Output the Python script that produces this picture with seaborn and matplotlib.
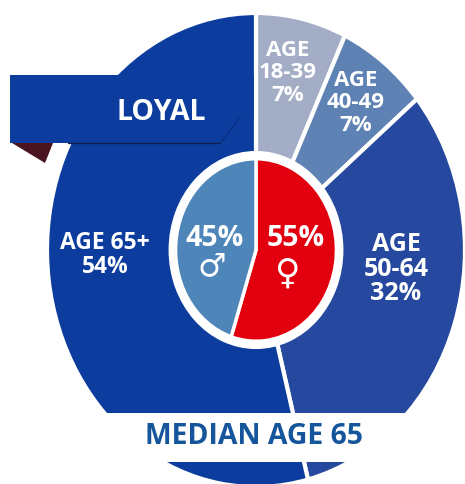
import matplotlib
matplotlib.use('Agg')
import matplotlib.pyplot as plt
import seaborn as sns

# Age split, clockwise from 12 o'clock
age_labels = ['18-39', '40-49', '50-64', '65+']
age_values = [7, 7, 32, 54]
age_colors = ['#a3adc6', '#5f82b4', '#26499f', '#0c3d9e']

# Gender split, clockwise from 12 o'clock
gender_labels = ['Female', 'Male']
gender_values = [55, 45]
gender_colors = ['#e2000f', '#4f86ba']

sns.set_theme(style='white')
plt.rcParams['font.family'] = ['Open Sans', 'DejaVu Sans']

W, H = 465, 484
CX, CY = 256, 250
RX, RY = 209, 237

fig = plt.figure(figsize=(W / 100, H / 100), dpi=100)
ax = fig.add_axes([0, 0, 1, 1])

# outer ring, inner white disc, inner pie
ax.pie(age_values, radius=1, center=(0, 0), startangle=90, counterclock=False,
       colors=age_colors, wedgeprops=dict(edgecolor='white', linewidth=3))
ax.pie([1], radius=0.415, center=(0, 0), colors=['white'])
ax.pie(gender_values, radius=0.385, center=(0, 0), startangle=90, counterclock=False,
       colors=gender_colors, wedgeprops=dict(edgecolor='white', linewidth=2.5))
ax.set_aspect('auto')
ax.set_xlim(-CX / RX, (W - CX) / RX)
ax.set_ylim(-(H - CY) / RY, CY / RY)

# overlay in pixel coordinates for the banner and the labels
ov = fig.add_axes([0, 0, 1, 1], zorder=5)
ov.set_xlim(0, W)
ov.set_ylim(H, 0)
ov.axis('off')

ov.fill([0, W, W, 0], [413, 413, 462, 462], color='white', lw=0)
ov.fill([10, 116, 254, 254, 220, 10], [75, 75, 75, 118, 143, 143], color='#0c3d9e', lw=0)
ov.fill([12, 53, 45], [143, 143, 163], color='#4a1420', lw=0)
ov.plot([68, 220], [143, 143], color='#10204a', lw=1)
ov.plot([220, 240], [143, 118], color='#0a2f80', lw=0.8)

white = dict(color='white', fontweight='bold', ha='center', va='center')
ov.text(161, 112, 'LOYAL', fontsize=20.5, **white)
ov.text(288, 73, 'AGE\n' + age_labels[0] + '\n' + str(age_values[0]) + '%', fontsize=16,
        linespacing=1.08, **white)
ov.text(356, 103, 'AGE\n' + age_labels[1] + '\n' + str(age_values[1]) + '%', fontsize=16,
        linespacing=1.08, **white)
ov.text(396, 269, 'AGE\n' + age_labels[2] + '\n' + str(age_values[2]) + '%', fontsize=18,
        linespacing=0.95, **white)
ov.text(105, 255, 'AGE ' + age_labels[3] + '\n' + str(age_values[3]) + '%', fontsize=16.5,
        linespacing=1.05, **white)

ov.text(215, 239, str(gender_values[1]) + '%', fontsize=20.5, **white)
ov.text(296, 239, str(gender_values[0]) + '%', fontsize=20.5, **white)
ov.text(212, 267, '\u2642', fontsize=23, family='DejaVu Sans', color='white',
        fontweight='bold', ha='center', va='center')
ov.text(287, 274, '\u2640', fontsize=25, family='DejaVu Sans', color='white',
        fontweight='bold', ha='center', va='center')

ov.text(254, 437, 'MEDIAN AGE 65', fontsize=20.4, color='#14559b', fontweight='bold',
        ha='center', va='center')

fig.savefig('out.png', dpi=100)
